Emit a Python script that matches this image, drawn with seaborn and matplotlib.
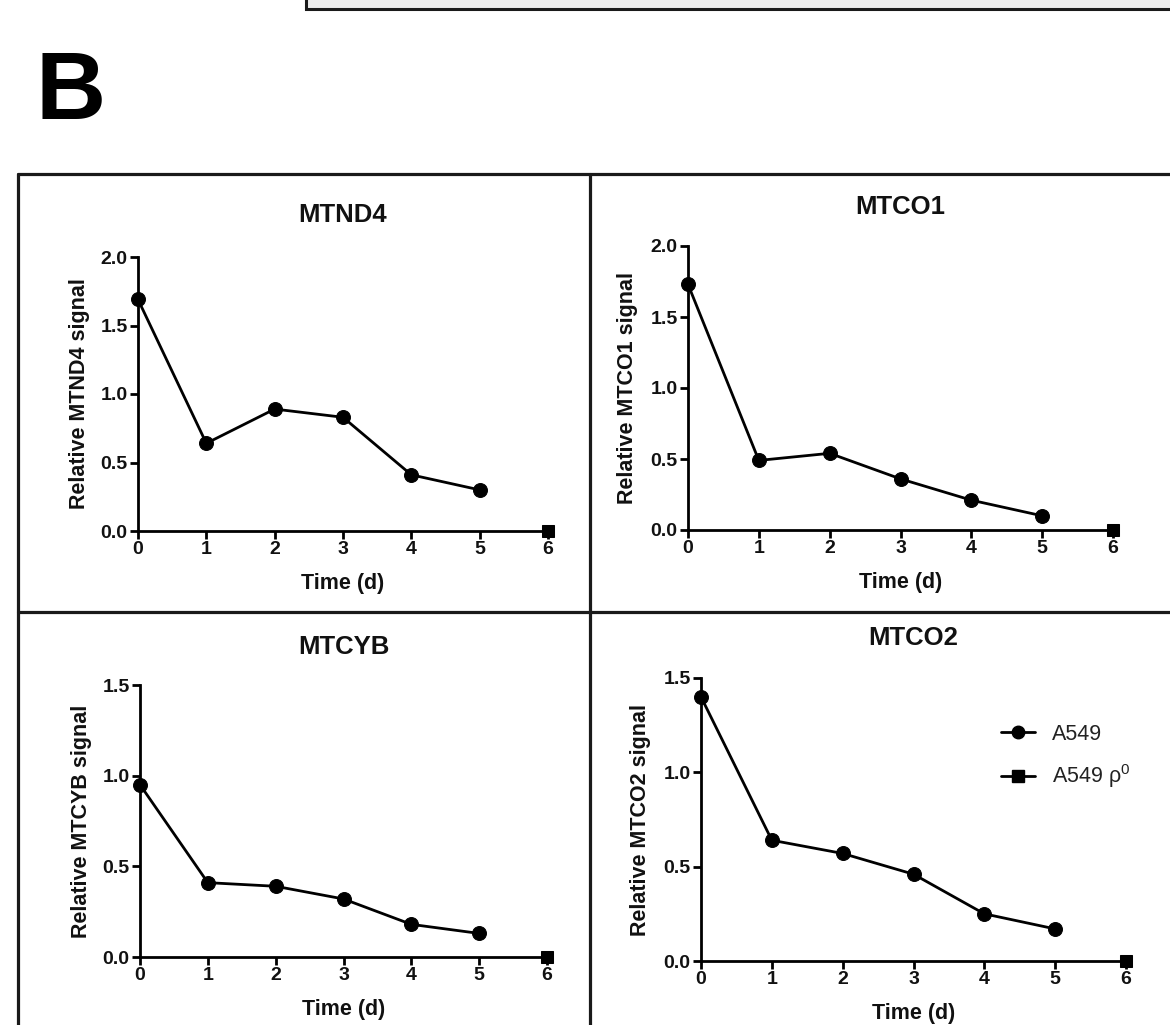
import matplotlib
matplotlib.use("Agg")
import matplotlib.pyplot as plt
from matplotlib.lines import Line2D
from matplotlib.patches import Rectangle
import numpy as np
import pandas as pd
import seaborn as sns

# ---------------- data ----------------
days = [0, 1, 2, 3, 4, 5]
rho0_days = [6]
mtnd4 = [1.69, 0.64, 0.89, 0.83, 0.41, 0.30]
mtco1 = [1.73, 0.49, 0.54, 0.36, 0.21, 0.10]
mtcyb = [0.95, 0.41, 0.39, 0.32, 0.18, 0.13]
mtco2 = [1.40, 0.64, 0.57, 0.46, 0.25, 0.17]
rho0_mtnd4 = [0.0]
rho0_mtco1 = [0.0]
rho0_mtcyb = [0.0]
rho0_mtco2 = [0.0]
genes = ["MTND4", "MTCO1", "MTCYB", "MTCO2"]
xticks = [0, 1, 2, 3, 4, 5, 6]
yticks_big = [0.0, 0.5, 1.0, 1.5, 2.0]
yticks_small = [0.0, 0.5, 1.0, 1.5]
series_labels = ["A549", "A549 ρ$^{0}$"]

# ---------------- style ----------------
sns.set_theme(style="ticks")
plt.rcParams["font.family"] = ["Liberation Sans", "DejaVu Sans"]
plt.rcParams["mathtext.fontset"] = "custom"
plt.rcParams["mathtext.rm"] = "Liberation Sans"
plt.rcParams["mathtext.it"] = "Liberation Sans:italic"

W, H = 1170, 1025
fig = plt.figure(figsize=(W / 100, H / 100), dpi=100)
fig.patch.set_facecolor("white")


def fx(px):
    return px / W


def fy(py):
    return 1 - py / H


# panel axes in pixel coords: left, right, y of 0, y of top
panels = [
    dict(gene="MTND4", vals=mtnd4, rho=rho0_mtnd4, l=138, r=548, y0=531, yt=257, top=2.0, pad=25),
    dict(gene="MTCO1", vals=mtco1, rho=rho0_mtco1, l=688, r=1113, y0=530, yt=246, top=2.0, pad=23),
    dict(gene="MTCYB", vals=mtcyb, rho=rho0_mtcyb, l=140, r=547, y0=957, yt=685, top=1.5, pad=22),
    dict(gene="MTCO2", vals=mtco2, rho=rho0_mtco2, l=701, r=1126, y0=961, yt=678, top=1.5, pad=24),
]

lw_axis = 2.0
lw_line = 2.0
for i, p in enumerate(panels):
    ax = fig.add_axes([fx(p["l"]), fy(p["y0"]), fx(p["r"] - p["l"]), (p["y0"] - p["yt"]) / H])
    ax.set_facecolor("none")
    df = pd.DataFrame({"Time": days, "Signal": p["vals"]})
    dfr = pd.DataFrame({"Time": rho0_days, "Signal": p["rho"]})
    sns.lineplot(data=df, x="Time", y="Signal", ax=ax, color="black", lw=lw_line,
                 marker="o", markersize=10, markeredgecolor="black",
                 markerfacecolor="black", clip_on=False, label=series_labels[0], zorder=5)
    sns.lineplot(data=dfr, x="Time", y="Signal", ax=ax, color="black", lw=lw_line,
                 marker="s", markersize=8.5, markeredgecolor="black",
                 markerfacecolor="black", clip_on=False, label=series_labels[1], zorder=6)
    ax.set_xlim(0, 6)
    ax.set_ylim(0, p["top"])
    ax.set_xticks(xticks)
    ax.set_xticklabels([str(t) for t in xticks])
    yt = yticks_big if p["top"] == 2.0 else yticks_small
    ax.set_yticks(yt)
    ax.set_yticklabels([f"{v:.1f}" for v in yt])
    sns.despine(ax=ax)
    for s in ["left", "bottom"]:
        ax.spines[s].set_linewidth(lw_axis)
        ax.spines[s].set_color("black")
    ax.tick_params(axis="both", length=5.5, width=lw_axis, color="black",
                   labelsize=14, labelcolor="#111111", direction="out")
    ax.tick_params(axis="x", pad=2.0)
    ax.tick_params(axis="y", pad=2.0)
    for lab in ax.get_xticklabels() + ax.get_yticklabels():
        lab.set_fontweight("bold")
    ax.set_xlabel("Time (d)", fontsize=15.5, fontweight="bold", labelpad=10.5, color="#111111")
    ax.set_ylabel(f"Relative {p['gene']} signal", fontsize=15.5, fontweight="bold", color="#111111")
    ax.yaxis.set_label_coords(-0.117, 0.5)
    ax.set_title(p["gene"], fontsize=18.5, fontweight="bold", pad=p["pad"], color="#111111")
    if i == 3:
        handles = [
            Line2D([], [], color="black", lw=lw_line, marker="o", markersize=9),
            Line2D([], [], color="black", lw=lw_line, marker="s", markersize=8),
        ]
        ax.legend(handles, series_labels, loc="center left",
                  bbox_to_anchor=(fx(982), fy(757)), bbox_transform=fig.transFigure,
                  frameon=False, fontsize=15.5, handlelength=1.55, handletextpad=0.8,
                  labelspacing=0.8, borderpad=0.4, labelcolor="#222222")
    else:
        leg = ax.get_legend()
        if leg is not None:
            leg.remove()

# ---------------- panel frame lines ----------------
frame_col = "#1a1a1a"
flw = 2.3
fig.add_artist(Line2D([fx(18), 1.0], [fy(174), fy(174)], color=frame_col, lw=flw, transform=fig.transFigure))
fig.add_artist(Line2D([fx(18), fx(18)], [fy(174), 0.0], color=frame_col, lw=flw, transform=fig.transFigure))
fig.add_artist(Line2D([fx(590), fx(590)], [fy(174), 0.0], color=frame_col, lw=flw, transform=fig.transFigure))
fig.add_artist(Line2D([fx(18), 1.0], [fy(612), fy(612)], color=frame_col, lw=flw, transform=fig.transFigure))

# top partial box from previous panel
fig.add_artist(Rectangle((fx(306), fy(9)), 1.0, 0.05, transform=fig.transFigure,
                         facecolor="#ececec", edgecolor=frame_col, lw=2.2))

# panel letter
fig.text(fx(36), fy(94), "B", fontsize=70, fontweight="bold", ha="left", va="center", color="black")

fig.savefig("out.png", dpi=100)
